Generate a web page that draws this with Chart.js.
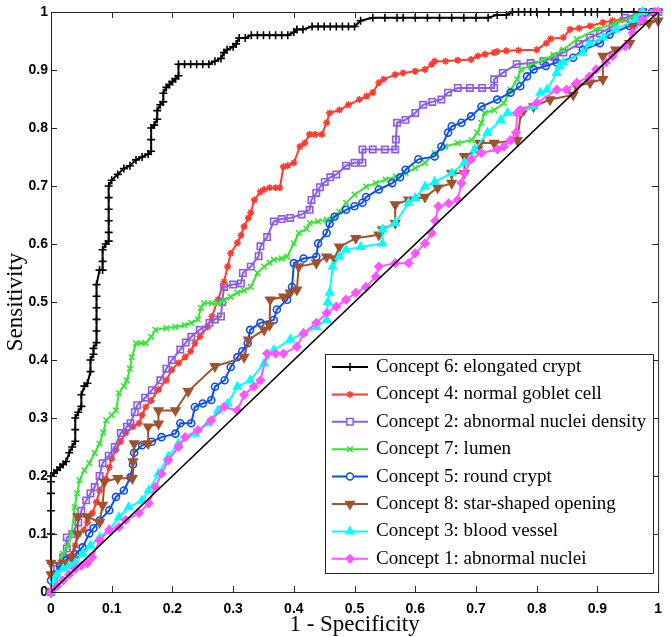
<!DOCTYPE html>
<html>
<head>
<meta charset="utf-8">
<script src="https://cdn.jsdelivr.net/npm/chart.js@4/dist/chart.umd.min.js"></script>
<style>
  body { margin: 0; background: #fff; }
  #roc { display: block; }
</style>
</head>
<body>
<canvas id="roc" width="671" height="637"></canvas>
<script>
// DATA  ([1 - specificity, sensitivity] pairs per concept)
const names = [
  "Concept 6: elongated crypt",
  "Concept 4: normal goblet cell",
  "Concept 2: abnormal nuclei density",
  "Concept 7: lumen",
  "Concept 5: round crypt",
  "Concept 8: star-shaped opening",
  "Concept 3: blood vessel",
  "Concept 1: abnormal nuclei"
];

const ticks = [0, 0.1, 0.2, 0.3, 0.4, 0.5, 0.6, 0.7, 0.8, 0.9, 1];

const concept6 = [[0,0],[0,0.05],[0,0.10],[0,0.14],[0,0.17],[0,0.19],[0,0.20],[0.005,0.205],[0.01,0.21],[0.015,0.215],[0.02,0.22],[0.025,0.225],[0.03,0.24],[0.035,0.25],[0.04,0.26],[0.04,0.28],[0.04,0.30],[0.045,0.31],[0.05,0.32],[0.05,0.34],[0.055,0.355],[0.06,0.36],[0.065,0.38],[0.065,0.40],[0.07,0.41],[0.07,0.42],[0.075,0.43],[0.075,0.45],[0.075,0.47],[0.075,0.49],[0.075,0.51],[0.075,0.53],[0.08,0.555],[0.085,0.555],[0.085,0.57],[0.085,0.59],[0.09,0.60],[0.095,0.605],[0.095,0.62],[0.095,0.64],[0.095,0.66],[0.095,0.68],[0.095,0.70],[0.10,0.71],[0.11,0.72],[0.12,0.73],[0.13,0.735],[0.14,0.745],[0.15,0.75],[0.16,0.755],[0.165,0.76],[0.165,0.78],[0.165,0.80],[0.17,0.805],[0.175,0.815],[0.175,0.83],[0.18,0.84],[0.185,0.845],[0.185,0.86],[0.19,0.87],[0.195,0.875],[0.20,0.88],[0.205,0.885],[0.21,0.89],[0.21,0.91],[0.22,0.91],[0.23,0.91],[0.24,0.91],[0.25,0.91],[0.26,0.91],[0.27,0.915],[0.28,0.92],[0.285,0.93],[0.29,0.935],[0.30,0.94],[0.305,0.945],[0.31,0.955],[0.32,0.955],[0.33,0.96],[0.34,0.96],[0.35,0.96],[0.36,0.96],[0.37,0.96],[0.38,0.96],[0.39,0.96],[0.40,0.965],[0.405,0.97],[0.415,0.97],[0.43,0.975],[0.44,0.975],[0.45,0.975],[0.46,0.975],[0.47,0.975],[0.48,0.975],[0.49,0.975],[0.50,0.975],[0.51,0.985],[0.53,0.99],[0.55,0.99],[0.57,0.99],[0.58,0.99],[0.60,0.99],[0.62,0.99],[0.64,0.99],[0.66,0.99],[0.68,0.99],[0.70,0.99],[0.72,0.99],[0.735,0.995],[0.75,0.995],[0.76,1],[0.77,1],[0.78,1],[0.79,1],[0.80,1],[0.82,1],[0.84,1],[0.86,1],[0.88,1],[0.89,1],[0.90,1],[0.92,1],[0.94,1],[0.96,1],[0.98,1],[1,1]];

const concept4 = [[0,0],[0.005,0.01],[0.01,0.03],[0.02,0.05],[0.03,0.06],[0.04,0.08],[0.045,0.10],[0.054,0.107],[0.06,0.12],[0.068,0.136],[0.075,0.155],[0.08,0.175],[0.09,0.195],[0.096,0.215],[0.10,0.23],[0.107,0.245],[0.115,0.26],[0.123,0.274],[0.135,0.285],[0.145,0.291],[0.15,0.305],[0.156,0.319],[0.165,0.33],[0.177,0.349],[0.19,0.365],[0.199,0.383],[0.21,0.395],[0.221,0.405],[0.23,0.415],[0.237,0.429],[0.245,0.44],[0.258,0.457],[0.265,0.475],[0.275,0.504],[0.285,0.535],[0.291,0.561],[0.296,0.584],[0.307,0.602],[0.313,0.615],[0.318,0.63],[0.325,0.645],[0.329,0.654],[0.335,0.676],[0.345,0.69],[0.351,0.694],[0.36,0.697],[0.37,0.697],[0.377,0.697],[0.383,0.733],[0.39,0.735],[0.40,0.74],[0.41,0.768],[0.418,0.774],[0.426,0.789],[0.435,0.789],[0.446,0.789],[0.454,0.809],[0.459,0.826],[0.475,0.831],[0.49,0.84],[0.508,0.849],[0.52,0.855],[0.53,0.861],[0.54,0.878],[0.548,0.884],[0.567,0.892],[0.58,0.895],[0.60,0.898],[0.616,0.901],[0.627,0.91],[0.632,0.915],[0.65,0.915],[0.67,0.917],[0.692,0.918],[0.703,0.924],[0.715,0.927],[0.73,0.93],[0.735,0.932],[0.75,0.933],[0.77,0.934],[0.80,0.935],[0.816,0.946],[0.823,0.954],[0.844,0.956],[0.855,0.97],[0.87,0.972],[0.888,0.976],[0.909,0.982],[0.925,0.985],[0.941,0.987],[0.96,0.99],[0.979,0.996],[0.995,1],[1,1]];

const concept2 = [[0,0],[0.005,0.02],[0.01,0.04],[0.02,0.06],[0.026,0.075],[0.026,0.094],[0.035,0.10],[0.045,0.12],[0.05,0.14],[0.058,0.158],[0.065,0.17],[0.072,0.181],[0.08,0.20],[0.085,0.222],[0.095,0.235],[0.105,0.25],[0.115,0.274],[0.125,0.285],[0.131,0.291],[0.138,0.31],[0.142,0.322],[0.155,0.335],[0.166,0.348],[0.18,0.365],[0.19,0.385],[0.199,0.40],[0.213,0.418],[0.222,0.43],[0.231,0.44],[0.245,0.452],[0.261,0.464],[0.27,0.47],[0.28,0.475],[0.282,0.50],[0.285,0.526],[0.30,0.53],[0.313,0.532],[0.316,0.55],[0.329,0.561],[0.342,0.579],[0.345,0.596],[0.356,0.612],[0.367,0.639],[0.38,0.643],[0.394,0.645],[0.413,0.651],[0.426,0.659],[0.429,0.676],[0.437,0.688],[0.443,0.698],[0.451,0.707],[0.46,0.715],[0.47,0.72],[0.486,0.735],[0.50,0.74],[0.513,0.74],[0.513,0.763],[0.53,0.763],[0.55,0.763],[0.567,0.763],[0.568,0.78],[0.57,0.809],[0.584,0.814],[0.60,0.826],[0.613,0.84],[0.628,0.845],[0.643,0.849],[0.654,0.861],[0.67,0.869],[0.69,0.869],[0.71,0.869],[0.73,0.869],[0.73,0.884],[0.744,0.895],[0.767,0.91],[0.79,0.912],[0.811,0.915],[0.83,0.922],[0.844,0.93],[0.87,0.945],[0.888,0.956],[0.904,0.963],[0.925,0.975],[0.946,0.99],[0.974,1],[1,1]];

const concept7 = [[0,0],[0.004,0.015],[0.01,0.03],[0.02,0.066],[0.027,0.08],[0.034,0.101],[0.039,0.146],[0.043,0.17],[0.047,0.193],[0.055,0.21],[0.063,0.222],[0.072,0.24],[0.08,0.256],[0.086,0.275],[0.091,0.296],[0.1,0.305],[0.107,0.313],[0.112,0.343],[0.12,0.355],[0.125,0.365],[0.13,0.385],[0.133,0.405],[0.14,0.429],[0.148,0.429],[0.156,0.429],[0.165,0.44],[0.172,0.452],[0.19,0.455],[0.205,0.457],[0.22,0.46],[0.231,0.464],[0.242,0.47],[0.247,0.49],[0.252,0.498],[0.265,0.498],[0.275,0.498],[0.285,0.503],[0.296,0.509],[0.307,0.516],[0.318,0.52],[0.329,0.526],[0.34,0.55],[0.351,0.561],[0.36,0.568],[0.367,0.573],[0.38,0.575],[0.389,0.578],[0.40,0.601],[0.408,0.619],[0.421,0.626],[0.426,0.636],[0.44,0.639],[0.454,0.642],[0.467,0.648],[0.475,0.656],[0.486,0.671],[0.50,0.685],[0.519,0.699],[0.535,0.705],[0.551,0.711],[0.568,0.716],[0.584,0.722],[0.60,0.731],[0.616,0.74],[0.632,0.757],[0.649,0.768],[0.67,0.774],[0.693,0.779],[0.702,0.792],[0.709,0.809],[0.714,0.826],[0.73,0.831],[0.746,0.843],[0.757,0.866],[0.768,0.884],[0.774,0.901],[0.79,0.907],[0.811,0.918],[0.828,0.926],[0.844,0.935],[0.866,0.953],[0.898,0.97],[0.93,0.981],[0.963,0.993],[0.995,1],[1,1]];

const concept5 = [[0,0],[0,0.02],[0.005,0.03],[0.015,0.045],[0.026,0.055],[0.04,0.065],[0.052,0.077],[0.063,0.101],[0.07,0.11],[0.08,0.123],[0.096,0.141],[0.107,0.164],[0.12,0.175],[0.131,0.198],[0.135,0.22],[0.137,0.24],[0.15,0.253],[0.166,0.259],[0.182,0.267],[0.205,0.273],[0.213,0.291],[0.231,0.291],[0.237,0.319],[0.25,0.325],[0.264,0.331],[0.27,0.354],[0.286,0.365],[0.296,0.388],[0.307,0.405],[0.315,0.415],[0.324,0.429],[0.328,0.452],[0.345,0.464],[0.367,0.469],[0.372,0.487],[0.389,0.504],[0.397,0.526],[0.40,0.567],[0.416,0.575],[0.437,0.578],[0.44,0.601],[0.454,0.619],[0.459,0.635],[0.467,0.647],[0.486,0.659],[0.50,0.665],[0.513,0.671],[0.519,0.681],[0.54,0.694],[0.562,0.705],[0.575,0.715],[0.584,0.728],[0.605,0.746],[0.632,0.751],[0.643,0.768],[0.654,0.792],[0.66,0.803],[0.676,0.809],[0.692,0.82],[0.709,0.837],[0.735,0.849],[0.757,0.861],[0.773,0.872],[0.784,0.889],[0.795,0.901],[0.815,0.907],[0.833,0.913],[0.86,0.921],[0.876,0.935],[0.904,0.946],[0.92,0.961],[0.953,0.976],[0.974,0.987],[0.99,1],[1,1]];

const concept8 = [[0,0],[0,0.03],[0,0.05],[0.02,0.05],[0.035,0.06],[0.044,0.10],[0.044,0.13],[0.06,0.13],[0.08,0.12],[0.085,0.15],[0.088,0.19],[0.11,0.196],[0.134,0.196],[0.135,0.225],[0.137,0.256],[0.16,0.256],[0.16,0.285],[0.177,0.29],[0.177,0.313],[0.205,0.313],[0.226,0.346],[0.27,0.389],[0.318,0.405],[0.325,0.435],[0.351,0.452],[0.36,0.46],[0.361,0.504],[0.383,0.509],[0.394,0.516],[0.405,0.521],[0.408,0.561],[0.437,0.567],[0.454,0.578],[0.467,0.575],[0.475,0.595],[0.502,0.61],[0.54,0.616],[0.546,0.625],[0.567,0.636],[0.567,0.668],[0.589,0.676],[0.616,0.681],[0.637,0.697],[0.66,0.705],[0.66,0.722],[0.681,0.722],[0.681,0.751],[0.703,0.763],[0.706,0.774],[0.73,0.774],[0.768,0.779],[0.774,0.826],[0.779,0.831],[0.795,0.837],[0.822,0.849],[0.86,0.857],[0.866,0.872],[0.888,0.878],[0.909,0.884],[0.909,0.924],[0.93,0.935],[0.953,0.946],[0.958,0.976],[0.985,0.981],[1,0.985],[1,1]];

const concept3 = [[0,0],[0.005,0.02],[0.01,0.03],[0.02,0.04],[0.03,0.045],[0.04,0.05],[0.052,0.066],[0.065,0.08],[0.08,0.094],[0.096,0.107],[0.112,0.129],[0.128,0.146],[0.15,0.158],[0.161,0.175],[0.177,0.204],[0.193,0.233],[0.21,0.256],[0.237,0.273],[0.259,0.291],[0.275,0.313],[0.291,0.325],[0.307,0.354],[0.328,0.365],[0.351,0.394],[0.367,0.417],[0.394,0.435],[0.416,0.446],[0.437,0.457],[0.454,0.469],[0.456,0.50],[0.459,0.516],[0.464,0.561],[0.475,0.578],[0.486,0.59],[0.51,0.595],[0.546,0.601],[0.546,0.625],[0.567,0.636],[0.589,0.671],[0.60,0.679],[0.616,0.699],[0.632,0.707],[0.66,0.722],[0.681,0.74],[0.692,0.746],[0.698,0.763],[0.719,0.792],[0.741,0.814],[0.752,0.826],[0.768,0.826],[0.795,0.837],[0.806,0.861],[0.817,0.866],[0.833,0.895],[0.838,0.907],[0.844,0.913],[0.876,0.93],[0.887,0.946],[0.909,0.956],[0.93,0.97],[0.963,0.987],[0.974,1],[1,1]];

const concept1 = [[0,0],[0.01,0.01],[0.02,0.02],[0.03,0.03],[0.04,0.04],[0.05,0.045],[0.06,0.05],[0.068,0.06],[0.08,0.089],[0.096,0.107],[0.112,0.112],[0.123,0.124],[0.145,0.136],[0.161,0.153],[0.172,0.181],[0.182,0.204],[0.193,0.227],[0.21,0.25],[0.221,0.267],[0.242,0.279],[0.264,0.296],[0.285,0.319],[0.307,0.313],[0.318,0.34],[0.334,0.354],[0.345,0.365],[0.356,0.411],[0.37,0.411],[0.383,0.411],[0.405,0.423],[0.416,0.446],[0.437,0.464],[0.454,0.481],[0.47,0.492],[0.486,0.504],[0.502,0.516],[0.519,0.526],[0.535,0.544],[0.54,0.561],[0.567,0.567],[0.589,0.567],[0.60,0.584],[0.616,0.601],[0.627,0.619],[0.633,0.64],[0.638,0.665],[0.655,0.67],[0.67,0.676],[0.676,0.705],[0.681,0.722],[0.692,0.746],[0.709,0.757],[0.735,0.763],[0.746,0.768],[0.757,0.779],[0.766,0.792],[0.768,0.826],[0.773,0.831],[0.8,0.843],[0.833,0.866],[0.849,0.866],[0.866,0.878],[0.887,0.889],[0.898,0.901],[0.914,0.913],[0.925,0.924],[0.946,0.941],[0.958,0.964],[0.974,0.987],[0.995,1],[1,1]];

const chance = [[0,0],[1,1]];

// STYLES
const curves = [
  { data: concept6, color: "#000000", style: "cross",    radius: 4,   fill: false },
  { data: concept4, color: "#ff3b2f", style: "star",     radius: 3.5, fill: false },
  { data: concept2, color: "#8a5ce8", style: "rect",     radius: 4.5, fill: false },
  { data: concept7, color: "#35e632", style: "crossRot", radius: 4,   fill: false },
  { data: concept5, color: "#0a4ff0", style: "circle",   radius: 3.5, fill: false },
  { data: concept8, color: "#a0522d", style: "triangle", radius: 5,   fill: true, rot: 180 },
  { data: concept3, color: "#00ffff", style: "triangle", radius: 4.5, fill: true },
  { data: concept1, color: "#ff55ff", style: "rectRot",  radius: 4,   fill: true }
];

const toXY = arr => arr.map(p => ({ x: p[0], y: p[1] }));

const datasets = curves.map((c, i) => ({
  label: names[i],
  data: toXY(c.data),
  showLine: true,
  borderColor: c.color,
  borderWidth: 2,
  pointStyle: c.style,
  pointRadius: c.radius,
  pointRotation: c.rot || 0,
  pointBorderColor: c.color,
  pointBackgroundColor: c.fill ? c.color : "rgba(0,0,0,0)",
  pointBorderWidth: 1.6,
  clip: false,
  order: 10 - i
}));

datasets.push({
  label: "chance",
  data: toXY(chance),
  showLine: true,
  borderColor: "#000",
  borderWidth: 1.5,
  pointRadius: 0,
  order: 0
});

// AXES BOX WITH INWARD TICKS
const boxTicks = {
  id: "boxTicks",
  afterDatasetsDraw(chart) {
    const { ctx, chartArea: a, scales: { x, y } } = chart;
    const len = 6;
    ctx.save();
    ctx.strokeStyle = "#262626";
    ctx.lineWidth = 1;
    ctx.strokeRect(a.left + 0.5, a.top + 0.5, a.right - a.left, a.bottom - a.top);
    ctx.beginPath();
    ticks.forEach(v => {
      const px = Math.round(x.getPixelForValue(v)) + 0.5;
      ctx.moveTo(px, a.bottom); ctx.lineTo(px, a.bottom - len);
      ctx.moveTo(px, a.top); ctx.lineTo(px, a.top + len);
      const py = Math.round(y.getPixelForValue(v)) + 0.5;
      ctx.moveTo(a.left, py); ctx.lineTo(a.left + len, py);
      ctx.moveTo(a.right, py); ctx.lineTo(a.right - len, py);
    });
    ctx.stroke();
    ctx.restore();
  }
};

// LEGEND BOX
const legendBox = {
  id: "legendBox",
  afterDraw(chart) {
    const ctx = chart.ctx;
    const bx = 325, by = 354, bw = 328, bh = 219;
    ctx.save();
    ctx.fillStyle = "#fff";
    ctx.fillRect(bx, by, bw, bh);
    ctx.strokeStyle = "#262626";
    ctx.lineWidth = 1;
    ctx.strokeRect(bx + 0.5, by + 0.5, bw, bh);

    ctx.font = "19px 'Liberation Serif', 'Times New Roman', serif";
    ctx.textBaseline = "middle";
    curves.forEach((c, i) => {
      const ry = 367 + i * 27.4;
      ctx.strokeStyle = c.color;
      ctx.lineWidth = 2;
      ctx.beginPath();
      ctx.moveTo(332, ry);
      ctx.lineTo(368, ry);
      ctx.stroke();

      ctx.fillStyle = c.fill ? c.color : "#fff";
      ctx.lineWidth = 1.5;
      Chart.helpers.drawPoint(ctx, {
        pointStyle: c.style,
        radius: c.radius,
        rotation: c.rot || 0,
        borderWidth: 1.5
      }, 350, ry);

      ctx.fillStyle = "#000";
      ctx.fillText(names[i], 376, ry);
    });
    ctx.restore();
  }
};

// CHART
const tickFont = { family: "'Liberation Sans', Arial, sans-serif", size: 14, weight: "bold" };
const titleFont = { family: "'Liberation Serif', 'Times New Roman', serif", size: 23 };
const fmt = v => String(Math.round(v * 10) / 10);

new Chart(document.getElementById("roc"), {
  type: "scatter",
  data: { datasets },
  options: {
    responsive: false,
    animation: false,
    layout: { padding: { left: 0, right: 5, top: 12, bottom: 0 } },
    plugins: { legend: { display: false }, tooltip: { enabled: false } },
    scales: {
      x: {
        type: "linear", min: 0, max: 1,
        afterBuildTicks: s => { s.ticks = ticks.map(v => ({ value: v })); },
        ticks: { callback: fmt, font: tickFont, color: "#000", padding: 9, maxRotation: 0, autoSkip: false },
        grid: { display: false, drawTicks: false },
        border: { display: false },
        title: { display: true, text: "1 - Specificity", font: titleFont, color: "#000", padding: { top: 0, bottom: -2 } },
        afterFit: s => { s.height = 45; }
      },
      y: {
        type: "linear", min: 0, max: 1,
        afterBuildTicks: s => { s.ticks = ticks.map(v => ({ value: v })); },
        ticks: { callback: fmt, font: tickFont, color: "#000", padding: 3, autoSkip: false },
        grid: { display: false, drawTicks: false },
        border: { display: false },
        title: { display: true, text: "Sensitivity", font: titleFont, color: "#000", padding: { top: 2, bottom: 0 } },
        afterFit: s => { s.width = 51; }
      }
    }
  },
  plugins: [boxTicks, legendBox]
});
</script>
</body>
</html>
